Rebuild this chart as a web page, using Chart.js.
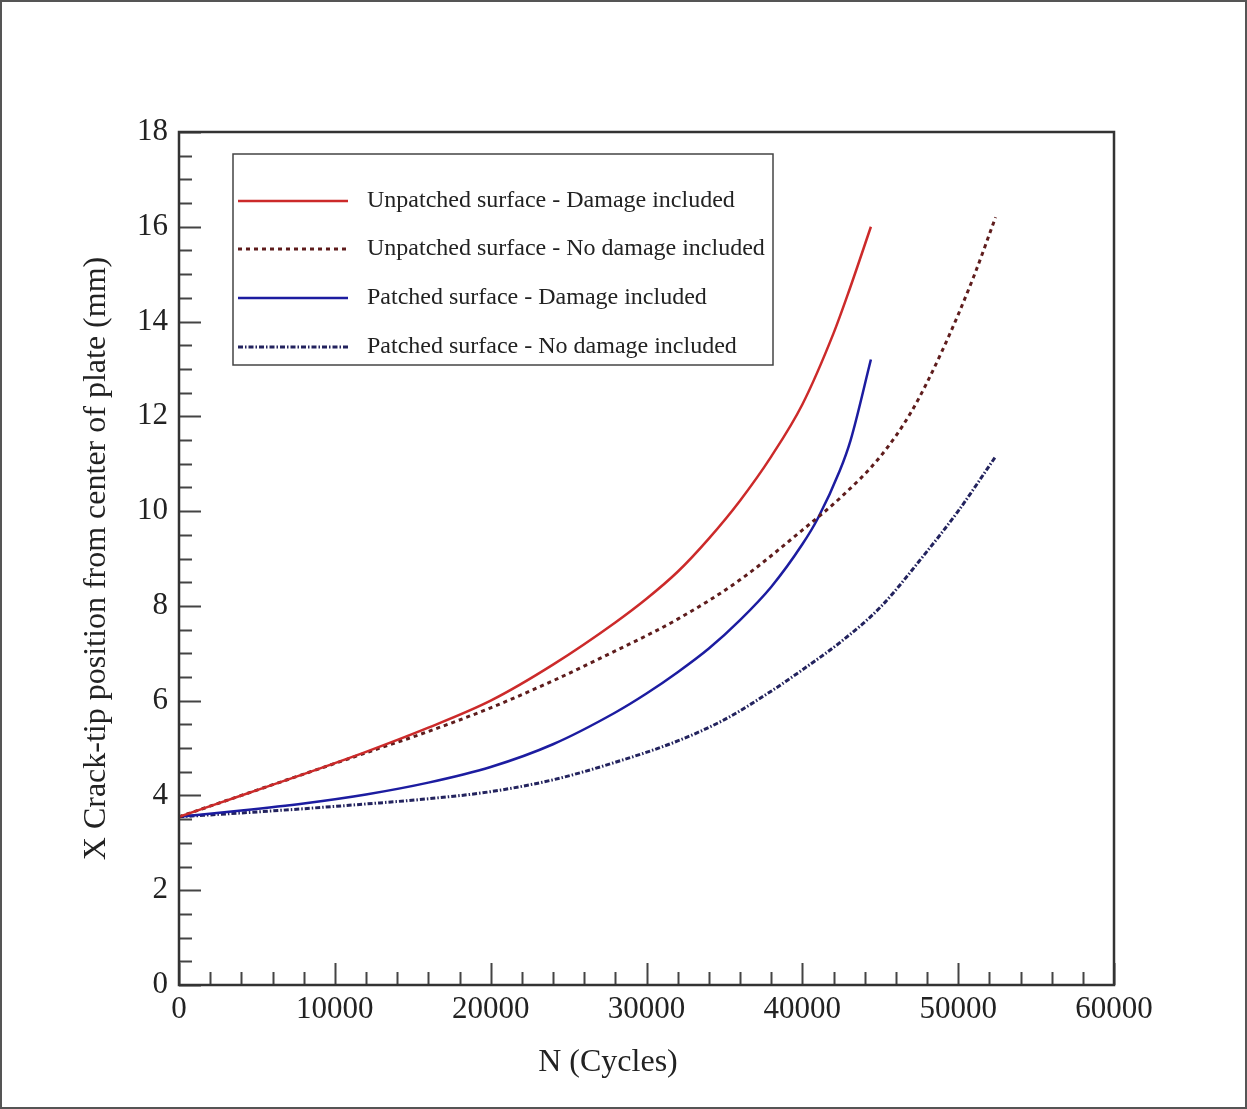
<!DOCTYPE html>
<html>
<head>
<meta charset="utf-8">
<script src="https://cdn.jsdelivr.net/npm/chart.js@4.4.1/dist/chart.umd.min.js"></script>
<style>
  html, body { margin: 0; padding: 0; background: #fff; }
  #wrap { width: 1247px; height: 1109px; position: relative; }
</style>
</head>
<body>
<div id="wrap"><canvas id="grafico"></canvas></div>
<script>
// Datos (N en ciclos, X en mm)
const unpatchedDamageN = [0, 4000, 8000, 12000, 16000, 20000, 24000, 28000, 30000, 32000, 34000, 36000, 38000, 40000, 42000, 43000, 44400];
const unpatchedDamageX = [3.55, 4.0, 4.45, 4.92, 5.43, 6.0, 6.76, 7.65, 8.15, 8.72, 9.42, 10.22, 11.15, 12.25, 13.75, 14.65, 16.0];

const unpatchedNoDamageN = [0, 4000, 8000, 12000, 16000, 20000, 24000, 28000, 32000, 36000, 40000, 42500, 45000, 47000, 49000, 51000, 52400];
const unpatchedNoDamageX = [3.55, 4.0, 4.45, 4.9, 5.35, 5.85, 6.42, 7.05, 7.72, 8.55, 9.6, 10.3, 11.15, 12.1, 13.4, 14.95, 16.2];

const patchedDamageN = [0, 4000, 8000, 12000, 16000, 20000, 24000, 28000, 30000, 32000, 34000, 36000, 38000, 40000, 41000, 42400, 43100, 44400];
const patchedDamageX = [3.55, 3.68, 3.83, 4.02, 4.27, 4.6, 5.08, 5.75, 6.15, 6.6, 7.1, 7.7, 8.4, 9.3, 9.85, 10.85, 11.5, 13.2];

const patchedNoDamageN = [0, 4000, 8000, 12000, 16000, 20000, 24000, 28000, 32000, 35000, 38000, 40000, 42500, 45000, 48000, 50000, 52400];
const patchedNoDamageX = [3.55, 3.63, 3.72, 3.82, 3.93, 4.08, 4.33, 4.7, 5.15, 5.6, 6.2, 6.65, 7.25, 7.97, 9.15, 10.0, 11.15];

const seriesLabels = [
  'Unpatched surface - Damage included',
  'Unpatched surface - No damage included',
  'Patched surface - Damage included',
  'Patched surface - No damage included'
];

const xTicks = [0, 10000, 20000, 30000, 40000, 50000, 60000];
const yTicks = [0, 2, 4, 6, 8, 10, 12, 14, 16, 18];

const xTitle = 'N (Cycles)';
const yTitle = 'X Crack-tip position from center of plate (mm)';

const FONT = "'Liberation Serif', 'Times New Roman', serif";

function puntos(ns, xs) {
  return ns.map((n, i) => ({ x: n, y: xs[i] }));
}

// Marco, ticks hacia dentro, titulos y leyenda
const decoracion = {
  id: 'decoracion',
  afterDraw(chart) {
    const ctx = chart.ctx;
    const a = chart.chartArea;
    const sx = chart.scales.x;
    const sy = chart.scales.y;
    ctx.save();

    // borde exterior
    ctx.strokeStyle = '#555';
    ctx.lineWidth = 2;
    ctx.strokeRect(1, 1, chart.width - 2, chart.height - 2);

    // ticks menores y mayores
    ctx.strokeStyle = '#444';
    ctx.lineWidth = 2;
    ctx.beginPath();
    for (let v = 0; v <= 60000; v += 2000) {
      const px = Math.round(sx.getPixelForValue(v)) + 0.5;
      const len = v % 10000 === 0 ? 22 : 13;
      ctx.moveTo(px, a.bottom);
      ctx.lineTo(px, a.bottom - len);
    }
    for (let v = 0; v <= 18; v += 0.5) {
      const py = Math.round(sy.getPixelForValue(v)) + 0.5;
      const len = v % 2 === 0 ? 22 : 13;
      ctx.moveTo(a.left, py);
      ctx.lineTo(a.left + len, py);
    }
    ctx.stroke();

    // marco del grafico
    ctx.strokeStyle = '#333';
    ctx.lineWidth = 2.5;
    ctx.strokeRect(a.left, a.top, a.right - a.left, a.bottom - a.top);

    // titulos de ejes
    ctx.fillStyle = '#222';
    ctx.font = '32px ' + FONT;
    ctx.textAlign = 'center';
    ctx.textBaseline = 'middle';
    ctx.fillText(xTitle, 608, 1063);
    ctx.save();
    ctx.translate(97, (a.top + a.bottom) / 2);
    ctx.rotate(-Math.PI / 2);
    ctx.fillText(yTitle, 0, 0);
    ctx.restore();

    // leyenda
    const box = { left: 233, top: 154, right: 773, bottom: 365 };
    ctx.fillStyle = '#fff';
    ctx.fillRect(box.left, box.top, box.right - box.left, box.bottom - box.top);
    ctx.strokeStyle = '#444';
    ctx.lineWidth = 1.5;
    ctx.strokeRect(box.left, box.top, box.right - box.left, box.bottom - box.top);
    const rows = [201, 249, 298, 347];
    ctx.font = '24px ' + FONT;
    ctx.textAlign = 'left';
    chart.data.datasets.forEach((ds, i) => {
      ctx.save();
      ctx.strokeStyle = ds.borderColor;
      ctx.lineWidth = ds.borderWidth;
      ctx.setLineDash(ds.borderDash || []);
      ctx.beginPath();
      ctx.moveTo(238, rows[i]);
      ctx.lineTo(348, rows[i]);
      ctx.stroke();
      ctx.restore();
      ctx.fillStyle = '#222';
      ctx.fillText(ds.label, 367, rows[i]);
    });

    ctx.restore();
  }
};

new Chart(document.getElementById('grafico'), {
  type: 'line',
  data: {
    datasets: [
      {
        label: seriesLabels[0],
        data: puntos(unpatchedDamageN, unpatchedDamageX),
        borderColor: '#cc2a2a',
        borderWidth: 2.5
      },
      {
        label: seriesLabels[1],
        data: puntos(unpatchedNoDamageN, unpatchedNoDamageX),
        borderColor: '#5e1c1c',
        borderWidth: 3,
        borderDash: [4, 4]
      },
      {
        label: seriesLabels[2],
        data: puntos(patchedDamageN, patchedDamageX),
        borderColor: '#1c1ca0',
        borderWidth: 2.5
      },
      {
        label: seriesLabels[3],
        data: puntos(patchedNoDamageN, patchedNoDamageX),
        borderColor: '#23235e',
        borderWidth: 3,
        borderDash: [5, 2, 1.5, 2]
      }
    ]
  },
  options: {
    responsive: true,
    maintainAspectRatio: false,
    animation: false,
    elements: {
      point: { radius: 0 },
      line: { cubicInterpolationMode: 'monotone', fill: false }
    },
    layout: {
      padding: { top: 132, right: 133, left: 0, bottom: 0 }
    },
    plugins: {
      legend: { display: false },
      tooltip: { enabled: false }
    },
    scales: {
      x: {
        type: 'linear',
        min: 0,
        max: 60000,
        afterFit: (s) => { s.height = 124; },
        afterBuildTicks: (s) => { s.ticks = xTicks.map(v => ({ value: v })); },
        grid: { display: false, drawTicks: false },
        border: { display: false },
        ticks: {
          padding: 6,
          color: '#222',
          maxRotation: 0,
          autoSkip: false,
          font: { family: FONT, size: 31 },
          callback: (v) => String(v)
        }
      },
      y: {
        min: 0,
        max: 18,
        afterFit: (s) => { s.width = 179; },
        afterBuildTicks: (s) => { s.ticks = yTicks.map(v => ({ value: v })); },
        grid: { display: false, drawTicks: false },
        border: { display: false },
        ticks: {
          padding: 11,
          color: '#222',
          font: { family: FONT, size: 31 }
        }
      }
    }
  },
  plugins: [decoracion]
});
</script>
</body>
</html>
